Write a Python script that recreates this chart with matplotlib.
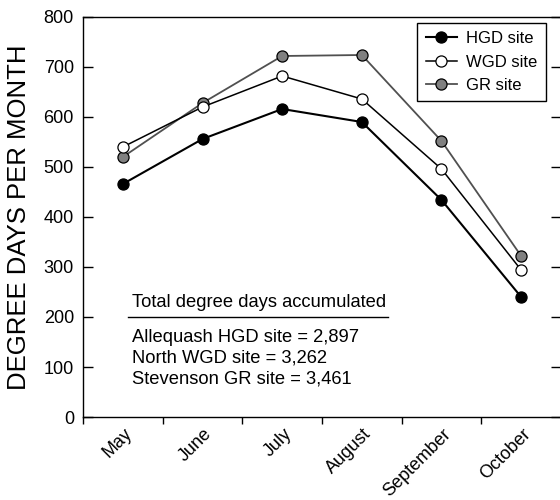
import numpy as np
import matplotlib.pyplot as plt
from matplotlib.transforms import ScaledTranslation

plt.rcParams['font.family'] = ['Liberation Sans', 'DejaVu Sans']

# Monthly degree days
months = ['May', 'June', 'July', 'August', 'September', 'October']
hgd = [466, 556, 616, 590, 434, 240]
wgd = [540, 620, 682, 636, 496, 294]
gr = [520, 628, 722, 724, 552, 322]

totals_title = 'Total degree days accumulated'
totals = ['Allequash HGD site = 2,897',
          'North WGD site = 3,262',
          'Stevenson GR site = 3,461']

fig = plt.figure(figsize=(5.6, 5.0), dpi=100)
ax = fig.add_axes([83 / 560, 1 - 417 / 500, 478 / 560, 400 / 500])

x = np.arange(len(months)) + 0.5

ax.plot(x, gr, color='#505050', lw=1.3, marker='o', ms=8,
        mfc='#808080', mec='black', mew=0.9, label='GR site', zorder=3)
ax.plot(x, wgd, color='black', lw=1.1, marker='o', ms=8,
        mfc='white', mec='black', mew=0.9, label='WGD site', zorder=4)
ax.plot(x, hgd, color='black', lw=1.5, marker='o', ms=8,
        mfc='black', mec='black', mew=0.9, label='HGD site', zorder=5)

ax.set_xlim(0, 6)
ax.set_ylim(0, 800)
ax.set_yticks(np.arange(0, 801, 100))
ax.tick_params(axis='y', direction='in', length=7, width=1, labelsize=13,
               pad=6.5, right=True)

ax.set_xticks(np.arange(0, 7))
ax.set_xticklabels([])
ax.set_xticks(x, minor=True)
ax.set_xticklabels(months, minor=True, rotation=45, ha='right')
ax.tick_params(axis='x', which='major', direction='out', length=5, width=1)
ax.tick_params(axis='x', which='minor', length=0, labelsize=13, pad=6)
offset = ScaledTranslation(13 / 100, 0, fig.dpi_scale_trans)
for lab in ax.get_xticklabels(minor=True):
    lab.set_transform(lab.get_transform() + offset)

ax.spines['right'].set_visible(False)
for s in ['left', 'top', 'bottom']:
    ax.spines[s].set_linewidth(1)

ax.set_ylabel('DEGREE DAYS PER MONTH', fontsize=18.5, labelpad=9)

# Totals block
ax.text(0.615, 220, totals_title, fontsize=13.2, va='baseline')
ax.plot([0.565, 3.83], [200, 200], color='black', lw=1)
for i, t in enumerate(totals):
    ax.text(0.615, 150 - 41 * i, t, fontsize=13.2, va='baseline')

handles, labels = ax.get_legend_handles_labels()
leg = ax.legend(handles[::-1], labels[::-1], loc='upper right',
                bbox_to_anchor=(0.9686, 0.985), borderaxespad=0,
                fontsize=12, handlelength=1.9, handletextpad=0.55,
                labelspacing=0.5, borderpad=0.5, fancybox=False,
                framealpha=1, edgecolor='black')
leg.get_frame().set_linewidth(1)

fig.savefig('out.png', dpi=100)
